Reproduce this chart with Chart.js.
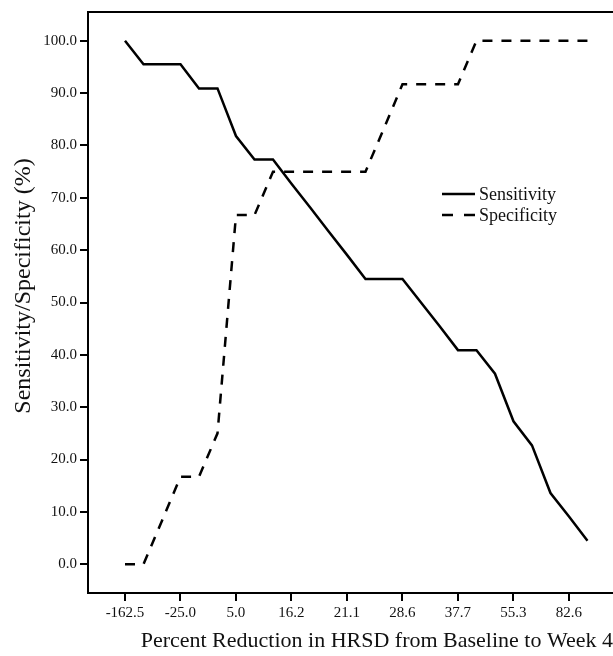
<!DOCTYPE html>
<html>
<head>
<meta charset="utf-8">
<script src="https://cdn.jsdelivr.net/npm/chart.js@4.4.0/dist/chart.umd.min.js"></script>
<style>
  html, body { margin: 0; padding: 0; background: #fff; }
  #wrap { width: 613px; height: 656px; }
</style>
</head>
<body>
<div id="wrap"><canvas id="roc-chart" width="613" height="656"></canvas></div>
<script>
// cut-off points along x; only every third one is labelled on the axis
const cutoffs = ['-162.5', '', '', '-25.0', '', '', '5.0', '', '', '16.2', '', '', '21.1', '', '',
    '28.6', '', '', '37.7', '', '', '55.3', '', '', '82.6', ''];
const tickIndex = [0, 3, 6, 9, 12, 15, 18, 21, 24];
const yTicks = [0, 10, 20, 30, 40, 50, 60, 70, 80, 90, 100];

const sensitivity = [100, 95.5, 95.5, 95.5, 90.9, 90.9, 81.8, 77.3, 77.3, 72.7, 68.2, 63.6, 59.1,
    54.5, 54.5, 54.5, 50.0, 45.5, 40.9, 40.9, 36.4, 27.3, 22.7, 13.6, 9.1, 4.5];
const specificity = [0, 0, 8.3, 16.7, 16.7, 25.0, 66.7, 66.7, 75.0, 75.0, 75.0, 75.0, 75.0,
    75.0, 83.3, 91.7, 91.7, 91.7, 91.7, 100, 100, 100, 100, 100, 100, 100];

const serif = '"Liberation Serif", "Times New Roman", serif';
const ink = '#111';

const toPoints = (values) => values.map((v, i) => ({x: i, y: v}));

// top frame line + rotated y title + inset legend
const framePlugin = {
    id: 'frame',
    afterDraw(chart) {
        const {ctx, chartArea} = chart;
        ctx.save();
        ctx.strokeStyle = '#000';
        ctx.lineWidth = 2;
        ctx.beginPath();
        ctx.moveTo(chartArea.left - 1, chartArea.top);
        ctx.lineTo(chartArea.right, chartArea.top);
        ctx.stroke();

        ctx.translate(24, 286);
        ctx.rotate(-Math.PI / 2);
        ctx.font = `24px ${serif}`;
        ctx.fillStyle = ink;
        ctx.textAlign = 'center';
        ctx.textBaseline = 'middle';
        ctx.fillText('Sensitivity/Specificity (%)', 0, 0);
        ctx.restore();
    },
    afterDatasetsDraw(chart) {
        const {ctx} = chart;
        chart.data.datasets.forEach((ds, i) => {
            const y = 194 + i * 21;
            ctx.save();
            ctx.strokeStyle = ds.borderColor;
            ctx.lineWidth = ds.borderWidth;
            ctx.setLineDash(ds.borderDash ? [11, 11] : []);
            ctx.beginPath();
            ctx.moveTo(442, y);
            ctx.lineTo(475, y);
            ctx.stroke();
            ctx.setLineDash([]);
            ctx.font = `18px ${serif}`;
            ctx.fillStyle = ink;
            ctx.textBaseline = 'middle';
            ctx.fillText(ds.label, 479, y + 1);
            ctx.restore();
        });
    }
};

const config = {
    type: 'line',
    data: {
        datasets: [
            {
                label: 'Sensitivity',
                data: toPoints(sensitivity),
                borderColor: '#000',
                borderWidth: 2.5,
                pointRadius: 0,
                tension: 0
            },
            {
                label: 'Specificity',
                data: toPoints(specificity),
                borderColor: '#000',
                borderWidth: 2.5,
                borderDash: [10, 9],
                pointRadius: 0,
                tension: 0
            }
        ]
    },
    options: {
        responsive: false,
        animation: false,
        layout: {padding: {top: 10, right: 0, bottom: 0, left: 0}},
        plugins: {
            legend: {display: false},
            tooltip: {enabled: false}
        },
        scales: {
            x: {
                type: 'linear',
                min: -2,
                max: 26.38,
                afterBuildTicks: (scale) => { scale.ticks = tickIndex.map((v) => ({value: v})); },
                afterFit: (scale) => { scale.height = 63; },
                grid: {drawOnChartArea: false, drawTicks: true, tickLength: 8, color: '#000', lineWidth: 2},
                border: {color: '#000', width: 2},
                ticks: {
                    color: ink,
                    padding: 3,
                    maxRotation: 0,
                    autoSkip: false,
                    font: {family: serif, size: 15},
                    callback: (value) => cutoffs[value]
                },
                title: {
                    display: true,
                    text: 'Percent Reduction in HRSD from Baseline to Week 4',
                    align: 'end',
                    color: ink,
                    font: {family: serif, size: 22},
                    padding: {top: 0, bottom: 2}
                }
            },
            y: {
                min: -5.5,
                max: 105.5,
                afterBuildTicks: (scale) => { scale.ticks = yTicks.map((v) => ({value: v})); },
                afterFit: (scale) => { scale.width = 88; },
                grid: {drawOnChartArea: false, drawTicks: true, tickLength: 8, color: '#000', lineWidth: 2},
                border: {color: '#000', width: 2},
                ticks: {
                    color: ink,
                    padding: 3,
                    font: {family: serif, size: 15},
                    callback: (value) => value.toFixed(1)
                }
            }
        }
    },
    plugins: [framePlugin]
};

const rocChart = new Chart(document.querySelector('#roc-chart').getContext('2d'), config);
</script>
</body>
</html>
